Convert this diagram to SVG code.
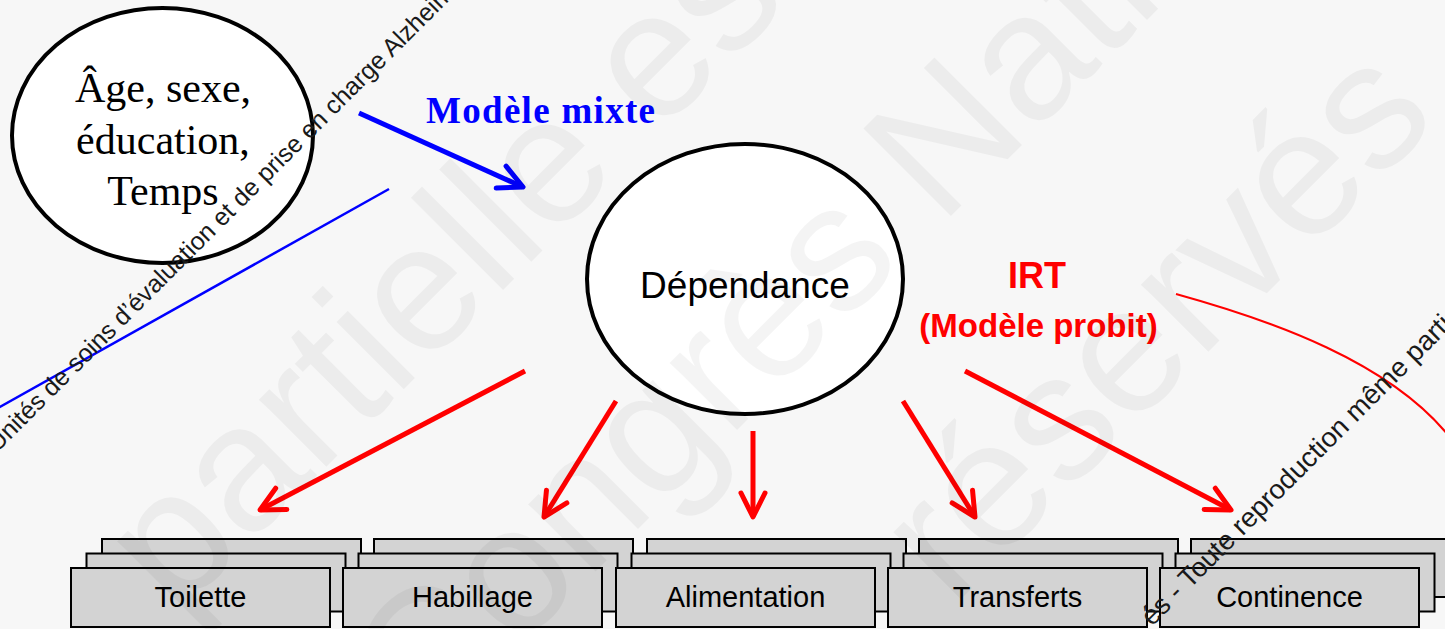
<svg xmlns="http://www.w3.org/2000/svg" width="1445" height="629" viewBox="0 0 1445 629">
<style>
.ell{fill:#fff;stroke:#000;stroke-width:4}
.box{fill:#d3d3d3;stroke:#000;stroke-width:2}
.lbl{font-family:"Liberation Sans",Arial,sans-serif;font-size:29px;fill:#000;text-anchor:middle}
.serif{font-family:"Liberation Serif","Times New Roman",serif;font-size:42px;fill:#000;text-anchor:middle}
.red{stroke:#ff0000;stroke-width:5;fill:none}
.wm{font-family:"Liberation Sans",Arial,sans-serif;font-size:180px;fill:#000;fill-opacity:0.045}
.wms{font-family:"Liberation Sans",Arial,sans-serif;font-size:25px;fill:#1a1a1a}
</style>
<defs>
<marker id="ahr" markerUnits="userSpaceOnUse" viewBox="-30 -20 40 40" markerWidth="40" markerHeight="40" refX="0" refY="0" orient="auto" overflow="visible">
<path d="M-24,-12 L0,0 L-24,12" fill="none" stroke="#ff0000" stroke-width="5" stroke-linecap="round" stroke-linejoin="round"/>
</marker>
<marker id="ahb" markerUnits="userSpaceOnUse" viewBox="-30 -20 40 40" markerWidth="40" markerHeight="40" refX="0" refY="0" orient="auto" overflow="visible">
<path d="M-24,-12 L0,0 L-24,12" fill="none" stroke="#0000ff" stroke-width="5" stroke-linecap="round" stroke-linejoin="round"/>
</marker>
</defs>
<rect x="0" y="0" width="1445" height="629" fill="#f7f7f7"/>

<g id="connectors">
<path d="M359,113 L523,187" stroke="#0000ff" stroke-width="5" fill="none" marker-end="url(#ahb)"/>
<path d="M389,189 L-2,408" stroke="#0000ff" stroke-width="2.5" fill="none"/>
<path d="M1176,294 C1270,320 1392,362 1452,440" stroke="#ff0000" stroke-width="2" fill="none"/>
<path class="red" d="M525,371 L260,510" marker-end="url(#ahr)"/>
<path class="red" d="M616,401 L544,517" marker-end="url(#ahr)"/>
<path class="red" d="M753,431 L753,517" marker-end="url(#ahr)"/>
<path class="red" d="M903,401 L975,517" marker-end="url(#ahr)"/>
<path class="red" d="M965,371 L1231,510" marker-end="url(#ahr)"/>
</g>

<g id="node-age">
<ellipse class="ell" cx="162.5" cy="135.5" rx="150.5" ry="127.5"/>
<text class="serif" x="163" y="102">Âge, sexe,</text>
<text class="serif" x="163" y="154">éducation,</text>
<text class="serif" x="163" y="205">Temps</text>
</g>

<g id="label-mixte">
<text x="540.5" y="123" font-family="'Liberation Serif','Times New Roman',serif" font-weight="bold" font-size="37" fill="#0000ff" text-anchor="middle" textLength="229" lengthAdjust="spacing">Modèle mixte</text>
</g>

<g id="node-dependance">
<ellipse class="ell" cx="745" cy="279" rx="158" ry="135"/>
<text x="745" y="298" font-family="'Liberation Sans',Arial,sans-serif" font-size="37" text-anchor="middle" fill="#000">Dépendance</text>
</g>

<g id="label-irt">
<text x="1037" y="288" font-family="'Liberation Sans',Arial,sans-serif" font-weight="bold" font-size="36" text-anchor="middle" fill="#ff0000">IRT</text>
<text x="1038.5" y="337" font-family="'Liberation Sans',Arial,sans-serif" font-weight="bold" font-size="33" text-anchor="middle" fill="#ff0000">(Modèle probit)</text>
</g>

<g id="node-toilette">
<rect class="box" x="102" y="539" width="259" height="58"/>
<rect class="box" x="86.5" y="553.5" width="259" height="58"/>
<rect class="box" x="71" y="568" width="259" height="59"/>
<text class="lbl" x="200.5" y="607">Toilette</text>
</g>
<g id="node-habillage">
<rect class="box" x="374" y="539" width="259" height="58"/>
<rect class="box" x="358.5" y="553.5" width="259" height="58"/>
<rect class="box" x="343" y="568" width="259" height="59"/>
<text class="lbl" x="472.5" y="607">Habillage</text>
</g>
<g id="node-alimentation">
<rect class="box" x="647" y="539" width="259" height="58"/>
<rect class="box" x="631.5" y="553.5" width="259" height="58"/>
<rect class="box" x="616" y="568" width="259" height="59"/>
<text class="lbl" x="745.5" y="607">Alimentation</text>
</g>
<g id="node-transferts">
<rect class="box" x="919" y="539" width="259" height="58"/>
<rect class="box" x="903.5" y="553.5" width="259" height="58"/>
<rect class="box" x="888" y="568" width="259" height="59"/>
<text class="lbl" x="1017.5" y="607">Transferts</text>
</g>
<g id="node-continence">
<rect class="box" x="1191" y="539" width="259" height="58"/>
<rect class="box" x="1175.5" y="553.5" width="259" height="58"/>
<rect class="box" x="1160" y="568" width="259" height="59"/>
<text class="lbl" x="1289.5" y="607">Continence</text>
</g>

<g id="watermark">
<text class="wm" transform="translate(176,617) rotate(-45)">partielle est</text>
<text class="wm" transform="translate(424,743) rotate(-45)">Congrès National</text>
<text class="wm" transform="translate(952,608) rotate(-45)">réservés</text>
<text class="wms" transform="translate(-3,453) rotate(-45)">Unités de soins d’évaluation et de prise en charge Alzheimer</text>
<text class="wms" style="font-size:27.5px" transform="translate(1152,627) rotate(-45)">és - Toute reproduction même partielle</text>
</g>
</svg>
